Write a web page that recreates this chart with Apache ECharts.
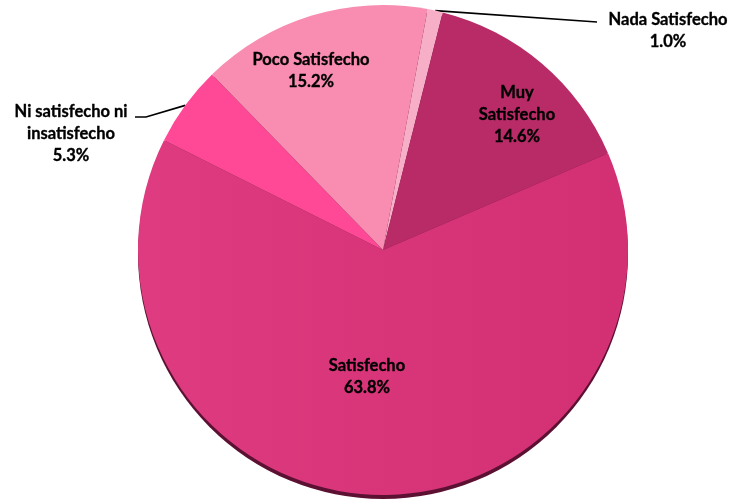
<!DOCTYPE html>
<html>
<head>
<meta charset="utf-8">
<script src="https://cdn.jsdelivr.net/npm/echarts@6/dist/echarts.min.js"></script>
<style>
  html, body { margin: 0; padding: 0; background: #ffffff; }
  #chart { width: 729px; height: 501px; }
</style>
</head>
<body>
<div id="chart"></div>
<script>
// Satisfaction survey: share of answers per level (clockwise from the top)
const categories = ['Nada Satisfecho', 'Muy Satisfecho', 'Satisfecho', 'Ni satisfecho ni insatisfecho', 'Poco Satisfecho'];
const labelTexts = ['Nada Satisfecho', 'Muy\nSatisfecho', 'Satisfecho', 'Ni satisfecho ni\ninsatisfecho', 'Poco Satisfecho'];
const shares = [1.0, 14.6, 63.8, 5.3, 15.2];

// Slice fills
const sliceColors = ['#F7AFC7', '#B82B67', '#D8347A', '#FF4896', '#F88DB1'];
// Labels drawn outside the pie, with leader lines
const outsideLabels = ['Nada Satisfecho', 'Ni satisfecho ni insatisfecho'];
// Centre of each label block
const labelCenters = [[668, 31], [517, 115], [367, 377], [71, 134], [311, 71]];
// Leader line bends after leaving the slice edge
const guideBends = [[[597, 22]], null, null, [[146, 117], [135, 117]], null];

const chart = echarts.init(document.getElementById('chart'), null, { renderer: 'canvas' });

const pieData = categories.map((name, i) => {
  const outside = outsideLabels.indexOf(name) >= 0;
  const item = {
    name: name,
    value: shares[i],
    itemStyle: { color: sliceColors[i] },
    label: { position: outside ? 'outside' : 'inside' },
    labelLine: { show: outside }
  };
  if (name === 'Satisfecho') {
    item.itemStyle.color = new echarts.graphic.LinearGradient(0, 0, 1, 0, [
      { offset: 0, color: '#DE3B80' },
      { offset: 1, color: '#D32F73' }
    ]);
  }
  return item;
});

chart.setOption({
  animation: false,
  backgroundColor: '#ffffff',
  series: [
    {
      // darker rim below the disc
      type: 'pie',
      silent: true,
      z: 1,
      center: [383, 254],
      radius: 245,
      label: { show: false },
      labelLine: { show: false },
      emphasis: { disabled: true },
      data: [{ value: 1, itemStyle: { color: '#5C1133' } }]
    },
    {
      type: 'pie',
      z: 2,
      center: [383, 250],
      radius: 245,
      startAngle: 79.5,
      clockwise: true,
      avoidLabelOverlap: false,
      emphasis: { disabled: true },
      itemStyle: { borderWidth: 0 },
      label: {
        show: true,
        color: '#000000',
        fontFamily: 'Lato, "Liberation Sans", sans-serif',
        fontWeight: 'bold',
        fontSize: 16.5,
        lineHeight: 22,
        align: 'center',
        textBorderColor: '#000000',
        textBorderWidth: 0.35,
        formatter: p => labelTexts[p.dataIndex] + '\n' + shares[p.dataIndex].toFixed(1) + '%'
      },
      labelLine: {
        show: true,
        smooth: false,
        length: 10,
        length2: 10,
        lineStyle: { color: '#000000', width: 1.6 }
      },
      labelLayout: function (params) {
        const i = params.dataIndex;
        const c = labelCenters[i];
        const out = { x: c[0], y: c[1], align: 'center', verticalAlign: 'middle' };
        if (guideBends[i] && params.labelLinePoints) {
          const start = params.labelLinePoints[0];
          out.labelLinePoints = [start].concat(guideBends[i]);
        }
        return out;
      },
      data: pieData
    }
  ]
});
</script>
</body>
</html>
